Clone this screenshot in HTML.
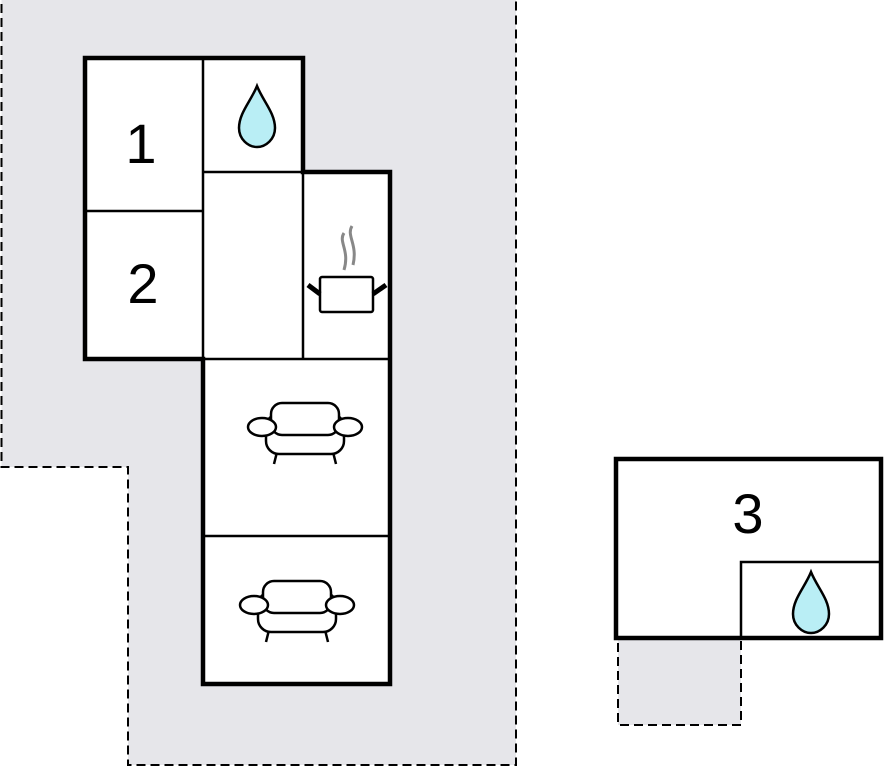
<!DOCTYPE html>
<html><head><style>html,body{margin:0;padding:0;background:#fff;}svg{display:block}</style></head>
<body>
<svg width="884" height="768" viewBox="0 0 884 768" xmlns="http://www.w3.org/2000/svg">
<defs>
<g id="drop"><path d="M0,-31 C-6,-16 -18,-4 -18,11 C-18,22 -9,30 0,30 C9,30 18,22 18,11 C18,-4 6,-16 0,-31 Z" fill="#b9eef5" stroke="#000" stroke-width="2.5"/></g>
<g id="sofa" fill="#fff" stroke="#000" stroke-width="2.5">
<line x1="-28" y1="26" x2="-31" y2="38"/><line x1="28" y1="26" x2="31" y2="38"/>
<rect x="-39" y="-12" width="78" height="40" rx="13"/>
<rect x="-34" y="-23" width="68" height="32" rx="11"/>
<ellipse cx="-43" cy="1" rx="14" ry="9"/><ellipse cx="43" cy="1" rx="14" ry="9"/>
</g>
</defs>
<path d="M1.5,-2 L516,-2 L516,765 L128,765 L128,467 L1.5,467 Z" fill="#e6e6ea" stroke="#000" stroke-width="2" stroke-dasharray="9,5"/>
<rect x="618" y="638" width="123" height="87" fill="#e6e6ea" stroke="#000" stroke-width="2" stroke-dasharray="9,5"/>
<path d="M85,58 L303,58 L303,172 L390,172 L390,684 L203,684 L203,359 L85,359 Z" fill="#fff" stroke="#000" stroke-width="4.5"/>
<g stroke="#000" stroke-width="2.5" fill="none">
<line x1="203" y1="58" x2="203" y2="359"/>
<line x1="85" y1="211" x2="203" y2="211"/>
<line x1="203" y1="172" x2="303" y2="172"/>
<line x1="303" y1="172" x2="303" y2="359"/>
<line x1="203" y1="359" x2="390" y2="359"/>
<line x1="203" y1="536" x2="390" y2="536"/>
</g>
<rect x="616" y="459" width="265" height="179" fill="#fff" stroke="#000" stroke-width="4.5"/>
<path d="M741,638 L741,562 L881,562" fill="none" stroke="#000" stroke-width="2.5"/>
<g font-family="Liberation Sans, sans-serif" font-size="56" text-anchor="middle">
<text x="141" y="163">1</text><text x="143" y="303">2</text><text x="748" y="533">3</text>
</g>
<use href="#drop" x="257" y="117"/>
<use href="#drop" x="811" y="603"/>
<use href="#sofa" x="305" y="426"/>
<use href="#sofa" x="297" y="604"/>
<g>
<path d="M344,233 C338,242 350,250 344,270 M352,226 C346,236 358,244 353,265" stroke="#888" stroke-width="3" fill="none"/>
<rect x="320" y="277" width="53" height="35" rx="2" fill="#fff" stroke="#000" stroke-width="2.5"/>
<line x1="308" y1="285" x2="320" y2="294" stroke="#000" stroke-width="5"/>
<line x1="386" y1="285" x2="373" y2="294" stroke="#000" stroke-width="5"/>
</g>
</svg>
</body></html>
